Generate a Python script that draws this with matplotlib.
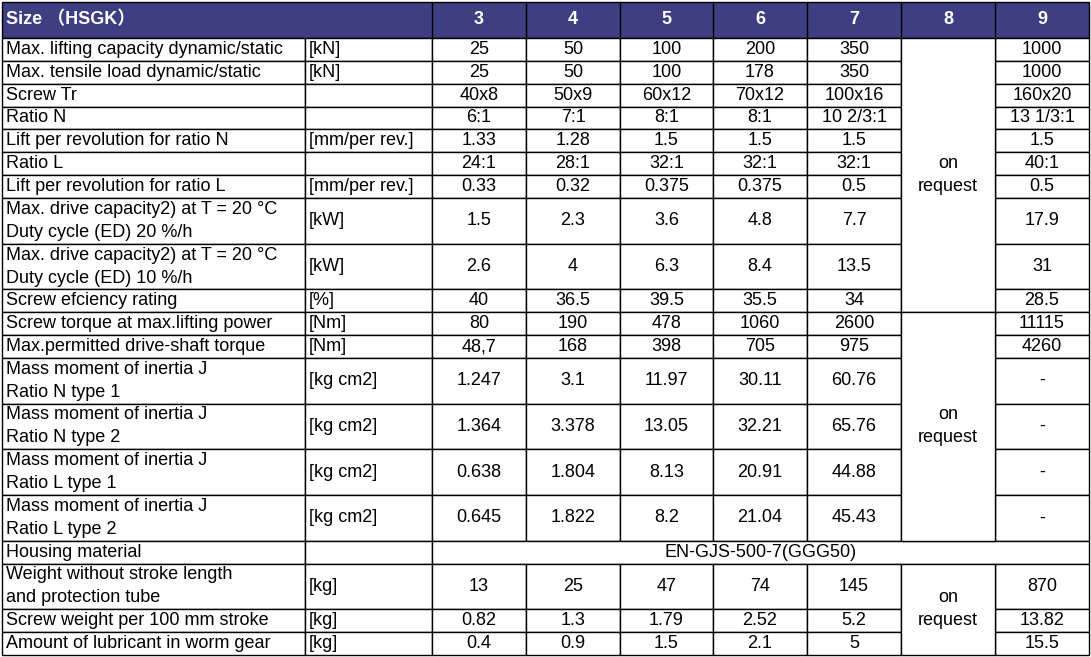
import matplotlib.pyplot as plt
from matplotlib.patches import Rectangle

plt.rcParams['font.family'] = ['Liberation Sans', 'Noto Sans CJK SC', 'DejaVu Sans']

sizes = ['3', '4', '5', '6', '7', '8', '9']
labels = [
    ['Max. lifting capacity dynamic/static'], ['Max. tensile load dynamic/static'],
    ['Screw Tr'], ['Ratio N'], ['Lift per revolution for ratio N'], ['Ratio L'],
    ['Lift per revolution for ratio L'],
    ['Max. drive capacity2) at T = 20 °C', 'Duty cycle (ED) 20 %/h'],
    ['Max. drive capacity2) at T = 20 °C', 'Duty cycle (ED) 10 %/h'],
    ['Screw efciency rating'], ['Screw torque at max.lifting power'],
    ['Max.permitted drive-shaft torque'],
    ['Mass moment of inertia J', 'Ratio N type 1'], ['Mass moment of inertia J', 'Ratio N type 2'],
    ['Mass moment of inertia J', 'Ratio L type 1'], ['Mass moment of inertia J', 'Ratio L type 2'],
    ['Housing material'],
    ['Weight without stroke length', 'and protection tube'],
    ['Screw weight per 100 mm stroke'], ['Amount of lubricant in worm gear'],
]
units = ['[kN]', '[kN]', '', '', '[mm/per rev.]', '', '[mm/per rev.]', '[kW]', '[kW]', '[%]',
         '[Nm]', '[Nm]', '[kg cm2]', '[kg cm2]', '[kg cm2]', '[kg cm2]', '', '[kg]', '[kg]', '[kg]']
# values for sizes 3,4,5,6,7,9 (size 8 is "on request")
values = [
    ['25', '50', '100', '200', '350', '1000'],
    ['25', '50', '100', '178', '350', '1000'],
    ['40x8', '50x9', '60x12', '70x12', '100x16', '160x20'],
    ['6:1', '7:1', '8:1', '8:1', '10 2/3:1', '13 1/3:1'],
    ['1.33', '1.28', '1.5', '1.5', '1.5', '1.5'],
    ['24:1', '28:1', '32:1', '32:1', '32:1', '40:1'],
    ['0.33', '0.32', '0.375', '0.375', '0.5', '0.5'],
    ['1.5', '2.3', '3.6', '4.8', '7.7', '17.9'],
    ['2.6', '4', '6.3', '8.4', '13.5', '31'],
    ['40', '36.5', '39.5', '35.5', '34', '28.5'],
    ['80', '190', '478', '1060', '2600', '11115'],
    ['48,7', '168', '398', '705', '975', '4260'],
    ['1.247', '3.1', '11.97', '30.11', '60.76', '-'],
    ['1.364', '3.378', '13.05', '32.21', '65.76', '-'],
    ['0.638', '1.804', '8.13', '20.91', '44.88', '-'],
    ['0.645', '1.822', '8.2', '21.04', '45.43', '-'],
    None,
    ['13', '25', '47', '74', '145', '870'],
    ['0.82', '1.3', '1.79', '2.52', '5.2', '13.82'],
    ['0.4', '0.9', '1.5', '2.1', '5', '15.5'],
]
housing = 'EN-GJS-500-7(GGG50)'
request_groups = [(0, 9), (10, 15), (17, 19)]

W, H = 1091, 657
fig = plt.figure(figsize=(W / 100, H / 100), dpi=100)
ax = fig.add_axes([0, 0, 1, 1])
ax.set_xlim(0, W)
ax.set_ylim(H, 0)
ax.axis('off')

xs = [2, 305, 432, 526, 620, 713, 807, 901, 995, 1089]
hdr_top, hdr_bot = 2, 38
heights = [46 if len(l) == 2 else 23 for l in labels]
ys = [hdr_bot]
for h in heights:
    ys.append(ys[-1] + h)
scale = (655 - hdr_bot) / (ys[-1] - hdr_bot)
ys = [hdr_bot + (y - hdr_bot) * scale for y in ys]

fs = 13
lw = 1.0
navy = '#3e3e82'

# header
ax.add_patch(Rectangle((xs[0], hdr_top), xs[-1] - xs[0], hdr_bot - hdr_top, fc=navy, ec='black', lw=lw))
ax.text(xs[0] + 4, (hdr_top + hdr_bot) / 2, 'Size （HSGK）', color='white', weight='bold',
        fontsize=fs, va='center', ha='left')
for i, s in enumerate(sizes):
    ax.plot([xs[i + 2]] * 2, [hdr_top, hdr_bot], color='black', lw=lw)
    ax.text((xs[i + 2] + xs[i + 3]) / 2, (hdr_top + hdr_bot) / 2, s, color='white', weight='bold',
            fontsize=fs, va='center', ha='center')

def cell(x0, x1, y0, y1):
    ax.add_patch(Rectangle((x0, y0), x1 - x0, y1 - y0, fc='white', ec='black', lw=lw))

def lines_text(x, y, txt, ha):
    if len(txt) == 1:
        ax.text(x, y, txt[0], fontsize=fs, va='center', ha=ha)
    else:
        ax.text(x, y - 11.5, txt[0], fontsize=fs, va='center', ha=ha)
        ax.text(x, y + 11.5, txt[1], fontsize=fs, va='center', ha=ha)

for r, lab in enumerate(labels):
    y0, y1 = ys[r], ys[r + 1]
    ym = (y0 + y1) / 2
    cell(xs[0], xs[1], y0, y1)
    lines_text(xs[0] + 4, ym, lab, 'left')
    cell(xs[1], xs[2], y0, y1)
    ax.text(xs[1] + 4, ym, units[r], fontsize=fs, va='center', ha='left')
    if values[r] is None:
        cell(xs[2], xs[-1], y0, y1)
        ax.text((xs[2] + xs[-1]) / 2, ym, housing, fontsize=fs, va='center', ha='center')
        continue
    cols = [2, 3, 4, 5, 6, 8]
    for c, v in zip(cols, values[r]):
        cell(xs[c], xs[c + 1], y0, y1)
        ax.text((xs[c] + xs[c + 1]) / 2, ym, v, fontsize=fs, va='center', ha='center')

for a, b in request_groups:
    y0, y1 = ys[a], ys[b + 1]
    cell(xs[7], xs[8], y0, y1)
    lines_text((xs[7] + xs[8]) / 2, (y0 + y1) / 2, ['on', 'request'], 'center')

fig.savefig('out.png', dpi=100)
